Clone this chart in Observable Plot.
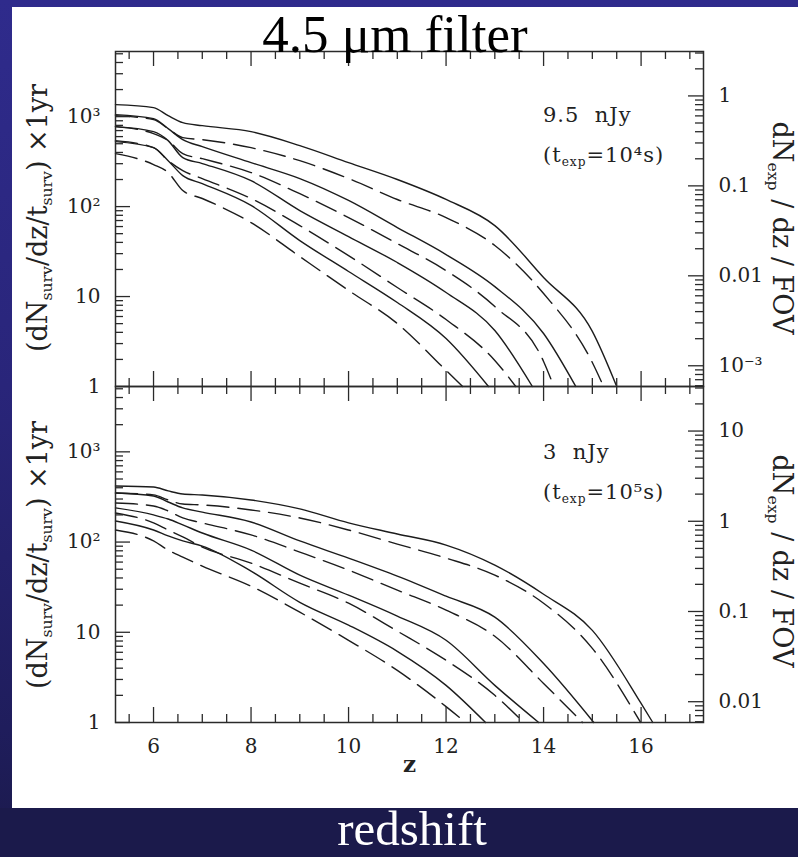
<!DOCTYPE html>
<html>
<head>
<meta charset="utf-8">
<script src="https://cdn.jsdelivr.net/npm/d3@7"></script>
<script src="https://cdn.jsdelivr.net/npm/@observablehq/plot@0.6"></script>
<style>
html,body{margin:0;padding:0;}
body{width:798px;height:857px;position:relative;overflow:hidden;
  background:linear-gradient(to bottom,#2f2b8c 0%,#29257a 45%,#1f1d5c 85%,#1b1a4b 100%);
  font-family:"DejaVu Serif",serif;}
#panel{position:absolute;left:12px;top:7px;width:786px;height:801px;background:#fff;}
#band{position:absolute;left:0;top:808px;width:798px;height:49px;background:#1b1a4b;}
.abs{position:absolute;white-space:pre;}
#title{left:0px;top:8px;width:790px;text-align:center;font-family:"Liberation Serif","Times New Roman",serif;font-size:53px;line-height:53px;color:#000;}
#xlabel{left:0px;top:809px;width:798px;box-sizing:border-box;padding-left:26px;text-align:center;font-family:"Liberation Serif","Times New Roman",serif;font-size:49px;line-height:40px;color:#fff;}
.ytitle{width:320px;height:30px;line-height:30px;text-align:center;font-size:27px;color:#222;}
.sub{font-size:0.58em;position:relative;top:0.32em;}
.note{font-size:21px;line-height:21px;color:#222;letter-spacing:1px;}
.plotwrap{position:absolute;left:0;}
</style>
</head>
<body>
<div id="panel"></div>
<div id="band"></div>
<div id="top" class="plotwrap" style="top:0px"></div>
<div id="bot" class="plotwrap" style="top:372px"></div>
<div id="title" class="abs">4.5 μm filter</div>
<div id="xlabel" class="abs">redshift</div>

<div class="abs ytitle" style="left:-122px;top:203px;transform:rotate(-90deg);">(dN<span class="sub">surv</span>/dz/t<span class="sub">surv</span>) ×1yr</div>
<div class="abs ytitle" style="left:-122px;top:540px;transform:rotate(-90deg);">(dN<span class="sub">surv</span>/dz/t<span class="sub">surv</span>) ×1yr</div>
<div class="abs ytitle" style="left:622px;top:213px;transform:rotate(90deg);">dN<span class="sub">exp</span> / dz / FOV</div>
<div class="abs ytitle" style="left:622px;top:546px;transform:rotate(90deg);">dN<span class="sub">exp</span> / dz / FOV</div>

<div class="abs note" style="left:543px;top:105px;">9.5  nJy</div>
<div class="abs note" style="left:543px;top:145px;">(t<span class="sub">exp</span>=10⁴s)</div>
<div class="abs note" style="left:543px;top:442px;">3  nJy</div>
<div class="abs note" style="left:543px;top:482px;">(t<span class="sub">exp</span>=10⁵s)</div>

<script>
// ---------------- data ----------------
const zGrid = [5.22, 6.0, 6.3, 6.6, 7.0, 8.0, 9.0, 10.0, 11.0, 12.0, 13.0, 14.0, 15.0, 16.0];
const seriesNames = ["S1", "D1", "S2", "D2", "S3", "D3", "S4", "D4"]; // S = solid, D = dashed

// upper panel: 9.5 nJy (t_exp = 1e4 s)
const topS1 = [1360, 1259, 1026, 858, 794, 681, 476, 308, 200, 120, 61.5, 16.3, 4.1];
const topD1 = [1026, 926, 736, 584, 555, 452, 324, 205, 120, 75.5, 36.9, 10.8, 1.85];
const topS2 = [1052, 950, 736, 555, 464, 308, 205, 117, 58.5, 29.3, 12.9, 3.88];
const topD2 = [774, 647, 541, 388, 341, 239, 139, 75.5, 38.8, 19.4, 7.74, 1.9];
const topS3 = [774, 681, 541, 350, 301, 194, 90.3, 46.4, 23.9, 11.1, 4.19];
const topD3 = [541, 452, 324, 251, 205, 123, 61.5, 28.5, 12.6, 5.55, 1.95];
const topS4 = [527, 452, 324, 221, 180, 103, 41.9, 19.0, 8.58, 3.41];
const topD4 = [388, 293, 239, 151, 123, 66.4, 27.8, 11.7, 5.01, 1.51];
const topEndZ = [15.5, 15.23, 14.66, 14.21, 13.77, 13.43, 12.87, 12.34];

// lower panel: 3 nJy (t_exp = 1e5 s)
const botS1 = [419, 408, 369, 341, 333, 293, 233, 163, 123, 92.6, 55.5, 26.4, 10.5, 1.63];
const botD1 = [350, 333, 293, 264, 258, 227, 185, 136, 95, 66.4, 43, 21, 6.64];
const botS2 = [350, 324, 278, 239, 215, 167, 103, 66.4, 41.9, 25.1, 14.7, 4.5];
const botD2 = [271, 251, 221, 185, 163, 120, 77.4, 48.9, 29.3, 17.6, 9.03, 2.71];
const botS3 = [239, 200, 180, 155, 126, 81.5, 43, 25.8, 15.1, 8.15, 2.58];
const botD3 = [210, 163, 136, 114, 88, 58.5, 35, 21, 10.3, 4.89, 2.0];
const botS4 = [171, 136, 117, 103, 90.3, 47.6, 21.5, 12, 6.15, 2.58];
const botD4 = [136, 103, 81.5, 68.1, 54.1, 32.4, 16.7, 8.15, 3.78, 1.5];
const botEndZ = [16.24, 15.99, 15.03, 14.8, 13.9, 13.59, 12.81, 12.4];

// axes
const xDomain = [5.22, 17.28];
const yDomain = [1, 5300];
const xMajor = [6, 8, 10, 12, 14, 16];
const xMinor = [5.5, 6.5, 7, 7.5, 8.5, 9, 9.5, 10.5, 11, 11.5, 12.5, 13, 13.5, 14.5, 15, 15.5, 16.5, 17];
const yMajor = [1, 10, 100, 1000];
const yLabels = ["1", "10", "10²", "10³"];
const topRightMajor = [0.001, 0.01, 0.1, 1];
const topRightLabels = ["10⁻³", "0.01", "0.1", "1"];
const botRightMajor = [0.01, 0.1, 1, 10];
const botRightLabels = ["0.01", "0.1", "1", "10"];
const topScaleK = 1 / 1700;   // right axis = left axis × k
const botScaleK = 1 / 170;

// ---------------- build ----------------
function buildRows(list, ends) {
  const out = [];
  list.forEach((vals, i) => {
    const id = seriesNames[i];
    const dashed = id[0] === "D";
    vals.forEach((v, j) => out.push({id, z: zGrid[j], v, dashed}));
    out.push({id, z: ends[i], v: yDomain[0], dashed});
  });
  return out;
}
const topRows = buildRows([topS1, topD1, topS2, topD2, topS3, topD3, topS4, topD4], topEndZ);
const botRows = buildRows([botS1, botD1, botS2, botD2, botS3, botD3, botS4, botD4], botEndZ);

const W = 798, ML = 115, MR = 95, FW = W - ML - MR;
const ink = "#2a2a2a";
const rel = (a, b) => Math.abs(a - b) / Math.abs(b) < 1e-6;
const yMinor = d3.scaleLog().domain(yDomain).ticks().filter(t => !yMajor.some(m => rel(t, m)));

function panel({rows, height, mt, mb, k, rMajor, rLabels, showX}) {
  const FH = height - mt - mb;
  const rMinor = d3.scaleLog().domain([yDomain[0] * k, yDomain[1] * k]).ticks()
    .filter(t => !rMajor.some(m => rel(t, m)));
  const lineOpts = {x: "z", y: "v", z: "id", stroke: "#1c1c1c", strokeWidth: 1.4, curve: "monotone-x"};
  const marks = [
    Plot.line(rows.filter(d => !d.dashed), lineOpts),
    Plot.line(rows.filter(d => d.dashed), {...lineOpts, strokeDasharray: "22,9"}),
    Plot.tickX(xMajor, {x: d => d, insetTop: FH - 15, stroke: ink, strokeWidth: 1.3}),
    Plot.tickX(xMinor, {x: d => d, insetTop: FH - 8, stroke: ink, strokeWidth: 1.3}),
    Plot.tickX(xMajor, {x: d => d, insetBottom: FH - 15, stroke: ink, strokeWidth: 1.3}),
    Plot.tickX(xMinor, {x: d => d, insetBottom: FH - 8, stroke: ink, strokeWidth: 1.3}),
    Plot.tickY(yMajor, {y: d => d, insetRight: FW - 15, stroke: ink, strokeWidth: 1.3}),
    Plot.tickY(yMinor, {y: d => d, insetRight: FW - 8, stroke: ink, strokeWidth: 1.3}),
    Plot.tickY(rMajor, {y: d => d / k, insetLeft: FW - 15, stroke: ink, strokeWidth: 1.3}),
    Plot.tickY(rMinor, {y: d => d / k, insetLeft: FW - 8, stroke: ink, strokeWidth: 1.3}),
    Plot.frame({stroke: ink, strokeWidth: 1.5}),
    Plot.axisY(yMajor, {anchor: "left", tickSize: 0, tickPadding: 15, label: null,
      tickFormat: d => yLabels[yMajor.findIndex(m => rel(d, m))], fontSize: 20, fill: "#222"}),
    Plot.axisY(rMajor.map(r => r / k), {anchor: "right", tickSize: 0, tickPadding: 15, label: null,
      tickFormat: d => rLabels[rMajor.findIndex(m => rel(d * k, m))], fontSize: 20, fill: "#222"})
  ];
  if (showX) {
    marks.push(Plot.axisX(xMajor, {anchor: "bottom", tickSize: 0, tickPadding: 16, label: null,
      tickFormat: d => String(d), fontSize: 20, fill: "#222"}));
    marks.push(Plot.text(["z"], {frameAnchor: "bottom", dy: 49, text: d => d, fontSize: 23,
      fontWeight: "bold", fill: "#222"}));
  }
  return Plot.plot({
    width: W, height, marginLeft: ML, marginRight: MR, marginTop: mt, marginBottom: mb,
    style: {background: "transparent", overflow: "visible", fontFamily: '"DejaVu Serif", serif', fontSize: "20px", color: "#222"},
    x: {domain: xDomain, axis: showX ? undefined : null},
    y: {type: "log", domain: yDomain},
    marks
  });
}

document.getElementById("top").appendChild(panel({
  rows: topRows, height: 400, mt: 51, mb: 14, k: topScaleK,
  rMajor: topRightMajor, rLabels: topRightLabels, showX: false
}));
document.getElementById("bot").appendChild(panel({
  rows: botRows, height: 400, mt: 14, mb: 50, k: botScaleK,
  rMajor: botRightMajor, rLabels: botRightLabels, showX: true
}));
</script>
</body>
</html>
